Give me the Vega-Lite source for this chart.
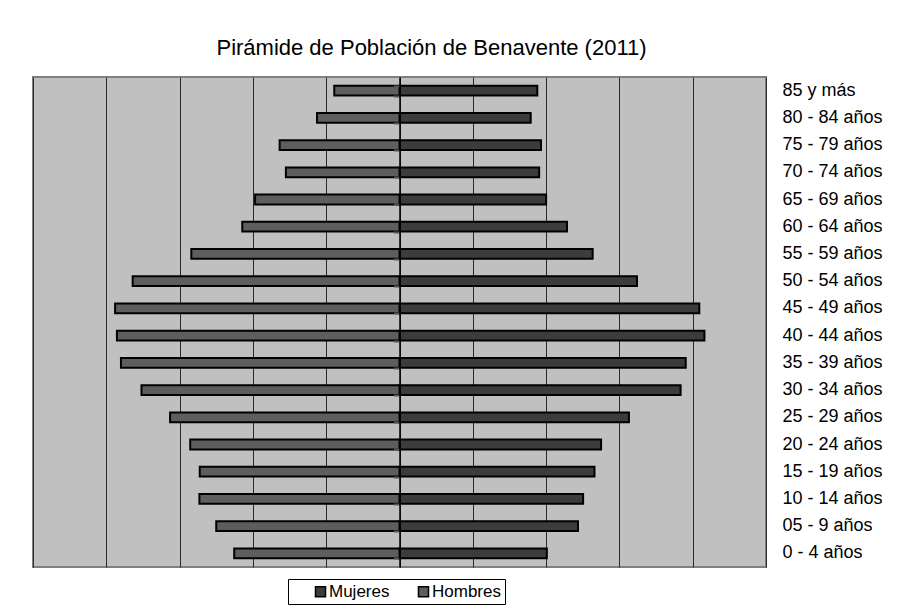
{
  "$schema": "https://vega.github.io/schema/vega-lite/v6.json",
  "width": 733,
  "height": 490,
  "autosize": {"type": "none"},
  "padding": {"left": 33, "top": 77, "right": 148, "bottom": 40},
  "background": "white",
  "config": {
    "view": {"fill": "#c0c0c0", "stroke": "#808080", "strokeWidth": 2},
    "font": "Liberation Sans"
  },
  "title": {
    "text": "Pirámide de Población de Benavente (2011)",
    "font": "Liberation Sans",
    "fontSize": 22,
    "fontWeight": "normal",
    "color": "black",
    "anchor": "middle",
    "dx": 32,
    "offset": 17
  },
  "data": {
    "values": [
      {"edad": "85 y más", "sexo": "Mujeres", "valor": 376},
      {"edad": "80 - 84 años", "sexo": "Mujeres", "valor": 358},
      {"edad": "75 - 79 años", "sexo": "Mujeres", "valor": 386},
      {"edad": "70 - 74 años", "sexo": "Mujeres", "valor": 381},
      {"edad": "65 - 69 años", "sexo": "Mujeres", "valor": 400},
      {"edad": "60 - 64 años", "sexo": "Mujeres", "valor": 457},
      {"edad": "55 - 59 años", "sexo": "Mujeres", "valor": 527},
      {"edad": "50 - 54 años", "sexo": "Mujeres", "valor": 648},
      {"edad": "45 - 49 años", "sexo": "Mujeres", "valor": 818},
      {"edad": "40 - 44 años", "sexo": "Mujeres", "valor": 832},
      {"edad": "35 - 39 años", "sexo": "Mujeres", "valor": 781},
      {"edad": "30 - 34 años", "sexo": "Mujeres", "valor": 767},
      {"edad": "25 - 29 años", "sexo": "Mujeres", "valor": 626},
      {"edad": "20 - 24 años", "sexo": "Mujeres", "valor": 550},
      {"edad": "15 - 19 años", "sexo": "Mujeres", "valor": 532},
      {"edad": "10 - 14 años", "sexo": "Mujeres", "valor": 501},
      {"edad": "05 - 9 años", "sexo": "Mujeres", "valor": 487},
      {"edad": "0 - 4 años", "sexo": "Mujeres", "valor": 402},
      {"edad": "85 y más", "sexo": "Hombres", "valor": -178},
      {"edad": "80 - 84 años", "sexo": "Hombres", "valor": -225},
      {"edad": "75 - 79 años", "sexo": "Hombres", "valor": -327},
      {"edad": "70 - 74 años", "sexo": "Hombres", "valor": -310},
      {"edad": "65 - 69 años", "sexo": "Hombres", "valor": -394},
      {"edad": "60 - 64 años", "sexo": "Hombres", "valor": -429},
      {"edad": "55 - 59 años", "sexo": "Hombres", "valor": -568},
      {"edad": "50 - 54 años", "sexo": "Hombres", "valor": -728},
      {"edad": "45 - 49 años", "sexo": "Hombres", "valor": -776},
      {"edad": "40 - 44 años", "sexo": "Hombres", "valor": -771},
      {"edad": "35 - 39 años", "sexo": "Hombres", "valor": -760},
      {"edad": "30 - 34 años", "sexo": "Hombres", "valor": -704},
      {"edad": "25 - 29 años", "sexo": "Hombres", "valor": -626},
      {"edad": "20 - 24 años", "sexo": "Hombres", "valor": -571},
      {"edad": "15 - 19 años", "sexo": "Hombres", "valor": -545},
      {"edad": "10 - 14 años", "sexo": "Hombres", "valor": -546},
      {"edad": "05 - 9 años", "sexo": "Hombres", "valor": -500},
      {"edad": "0 - 4 años", "sexo": "Hombres", "valor": -451}
    ]
  },
  "encoding": {
    "y": {
      "field": "edad",
      "type": "nominal",
      "sort": ["85 y más", "80 - 84 años", "75 - 79 años", "70 - 74 años", "65 - 69 años", "60 - 64 años", "55 - 59 años", "50 - 54 años", "45 - 49 años", "40 - 44 años", "35 - 39 años", "30 - 34 años", "25 - 29 años", "20 - 24 años", "15 - 19 años", "10 - 14 años", "05 - 9 años", "0 - 4 años"],
      "scale": {"paddingInner": 0.64, "paddingOuter": 0.32},
      "title": null
    },
    "x": {
      "field": "valor",
      "type": "quantitative",
      "scale": {"domain": [-1000, 1000], "nice": false},
      "title": null,
      "axis": {
        "values": [-1000, -800, -600, -400, -200, 0, 200, 400, 600, 800, 1000],
        "labels": false,
        "ticks": false,
        "domain": false,
        "grid": true,
        "gridColor": "#2a2a2a",
        "gridWidth": 1,
        "gridOpacity": 1
      }
    }
  },
  "layer": [
    {
      "mark": {"type": "bar", "stroke": "black", "strokeWidth": 2},
      "encoding": {
        "y": {
          "field": "edad",
          "type": "nominal",
          "sort": ["85 y más", "80 - 84 años", "75 - 79 años", "70 - 74 años", "65 - 69 años", "60 - 64 años", "55 - 59 años", "50 - 54 años", "45 - 49 años", "40 - 44 años", "35 - 39 años", "30 - 34 años", "25 - 29 años", "20 - 24 años", "15 - 19 años", "10 - 14 años", "05 - 9 años", "0 - 4 años"],
          "title": null,
          "axis": {
            "orient": "right",
            "domain": false,
            "ticks": false,
            "grid": false,
            "labelPadding": 16,
            "labelFont": "Liberation Sans",
            "labelFontSize": 18,
            "labelColor": "black",
            "labelAlign": "left"
          }
        },
        "color": {
          "field": "sexo",
          "type": "nominal",
          "scale": {"domain": ["Mujeres", "Hombres"], "range": ["#3c3c3c", "#5e5e5e"]},
          "legend": {
            "title": null,
            "orient": "none",
            "legendX": 255,
            "legendY": 502,
            "direction": "horizontal",
            "strokeColor": "black",
            "fillColor": "white",
            "padding": 4,
            "symbolType": "square",
            "symbolSize": 100,
            "symbolOffset": 20,
            "symbolStrokeColor": "black",
            "symbolStrokeWidth": 1.5,
            "symbolOpacity": 1,
            "labelFont": "Liberation Sans",
            "labelFontSize": 17,
            "labelColor": "black",
            "labelOffset": 0,
            "columnPadding": 5
          }
        }
      }
    },
    {
      "mark": {"type": "bar", "opacity": 0},
      "encoding": {
        "y": {
          "field": "edad",
          "type": "nominal",
          "sort": ["85 y más", "80 - 84 años", "75 - 79 años", "70 - 74 años", "65 - 69 años", "60 - 64 años", "55 - 59 años", "50 - 54 años", "45 - 49 años", "40 - 44 años", "35 - 39 años", "30 - 34 años", "25 - 29 años", "20 - 24 años", "15 - 19 años", "10 - 14 años", "05 - 9 años", "0 - 4 años"],
          "title": null,
          "axis": {
            "orient": "left",
            "offset": -366.5,
            "labels": false,
            "domain": true,
            "domainColor": "black",
            "domainWidth": 1.5,
            "ticks": true,
            "tickSize": 6,
            "tickColor": "#555555",
            "tickWidth": 2,
            "tickBand": "extent",
            "bandPosition": 0,
            "grid": false,
            "zindex": 1
          }
        }
      }
    }
  ],
  "resolve": {"axis": {"y": "independent"}}
}
